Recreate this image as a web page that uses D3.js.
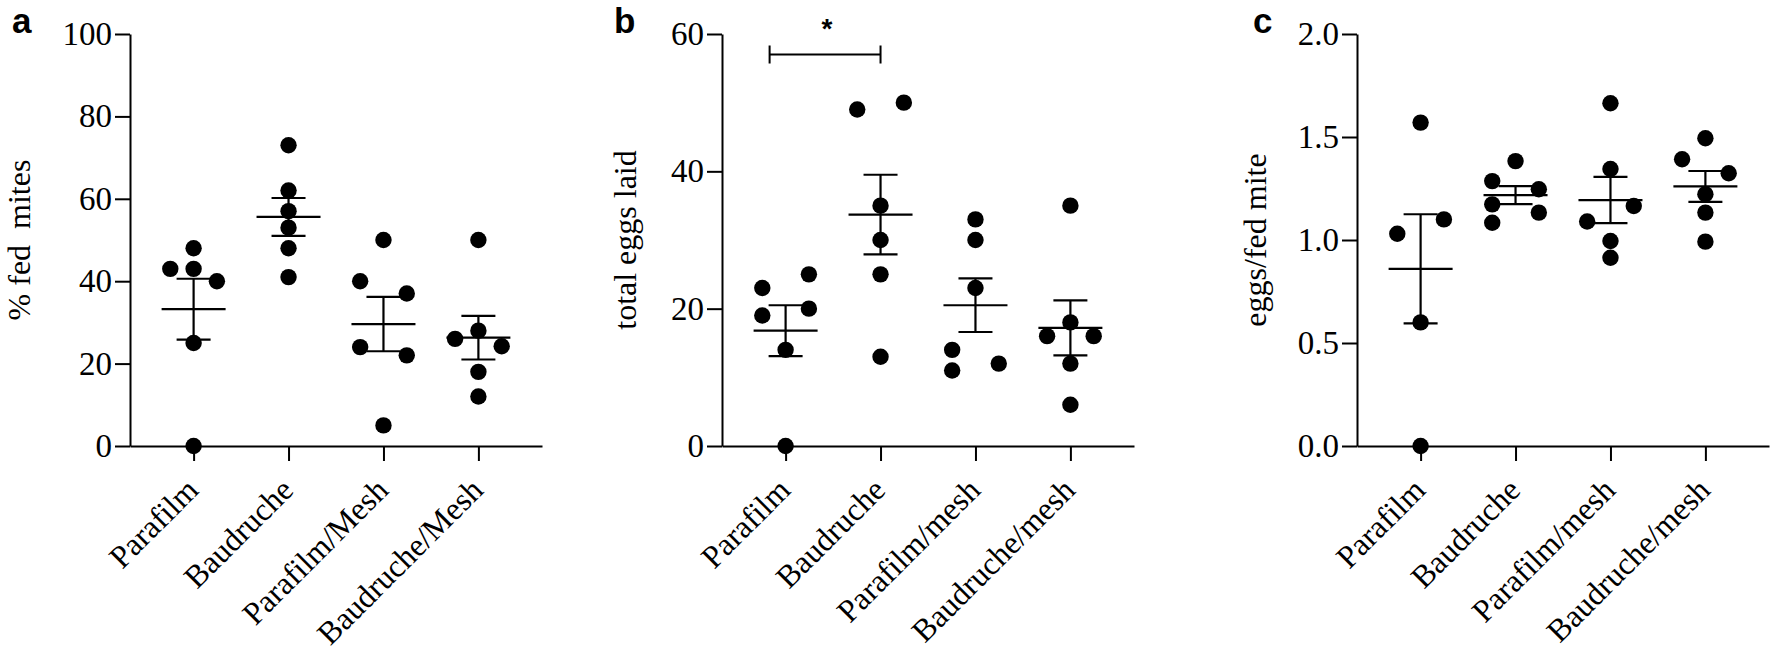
<!DOCTYPE html>
<html>
<head>
<meta charset="utf-8">
<script src="https://cdn.jsdelivr.net/npm/d3@7"></script>
<style>
  body { margin: 0; background: #fff; }
  svg { display: block; }
</style>
</head>
<body>
<div id="chart"></div>
<script>
// Categories
const groupsA = ["Parafilm", "Baudruche", "Parafilm/Mesh", "Baudruche/Mesh"];
const groupsBC = ["Parafilm", "Baudruche", "Parafilm/mesh", "Baudruche/mesh"];

// a: % fed mites (replicates, in data order)
const fedMites = [
    [48, 43, 43, 40, 25, 0],
    [73, 62, 57, 53, 48, 41],
    [50, 40, 37, 24, 22, 5],
    [50, 28, 26, 24.2, 18, 12]
];
const fedMean = [33.2, 55.6, 29.6, 26.3];
const fedSem = [7.4, 4.6, 6.6, 5.3];

// b: total eggs laid
const eggsLaid = [
    [23, 25, 19, 20, 14, 0],
    [49, 50, 35, 30, 25, 13],
    [33, 30, 23, 14, 12, 11],
    [35, 18, 16, 16, 12, 6]
];
const eggsMean = [16.8, 33.7, 20.5, 17.2];
const eggsSem = [3.7, 5.8, 3.9, 4.0];

// c: eggs per fed mite
const eggsPerMite = [
    [1.57, 1.03, 1.10, 0.60, 0],
    [1.383, 1.286, 1.246, 1.173, 1.133, 1.084],
    [1.664, 1.345, 1.09, 1.165, 0.995, 0.914],
    [1.494, 1.392, 1.324, 1.222, 1.133, 0.992]
];
const ratioMean = [0.86, 1.218, 1.194, 1.26];
const ratioSem = [0.265, 0.044, 0.112, 0.075];

// Tick labels
const ticksA = [0, 20, 40, 60, 80, 100];
const ticksB = [0, 20, 40, 60];
const ticksC = [0, 0.5, 1.0, 1.5, 2.0];

// Significance (panel b)
const sigPair = ["Parafilm", "Baudruche"];
const sigLevel = 57;
const sigText = "*";

const W = 1770, H = 654;
const plotTop = 34, plotBottom = 446, axisLen = 412;
const serif = "'Liberation Serif', 'Times New Roman', serif";
const sans = "'Liberation Sans', Arial, sans-serif";

const svg = d3.select("#chart").append("svg")
    .attr("width", W)
    .attr("height", H);

const panels = [
    { label: "a", left: 130, labelX: 12, titleX: 30, title: "% fed\u00a0\u00a0mites",
      groups: groupsA, values: fedMites, mean: fedMean, sem: fedSem,
      max: 100, ticks: ticksA, fmt: d3.format("d") },
    { label: "b", left: 722, labelX: 614, titleX: 636, title: "total eggs laid",
      groups: groupsBC, values: eggsLaid, mean: eggsMean, sem: eggsSem,
      max: 60, ticks: ticksB, fmt: d3.format("d"), sig: true },
    { label: "c", left: 1357, labelX: 1253, titleX: 1266, title: "eggs/fed mite",
      groups: groupsBC, values: eggsPerMite, mean: ratioMean, sem: ratioSem,
      max: 2, ticks: ticksC, fmt: d3.format(".1f") }
];

// Spread points that would overlap, roughly like Prism's scatter dot plot
function spread(values, y) {
    const D = 16, lane = 23.3;
    const order = values.map((v, i) => i)
        .sort((a, b) => (y(values[a]) - y(values[b])) || (a - b));
    const clusters = [];
    let cur = [];
    order.forEach((i, k) => {
        if (k > 0 && y(values[i]) - y(values[order[k - 1]]) >= D) {
            clusters.push(cur);
            cur = [];
        }
        cur.push(i);
    });
    clusters.push(cur);

    const off = values.map(() => 0);
    clusters.forEach(c => {
        const ys = c.map(i => y(values[i]));
        let k = 1;
        ys.forEach(a => {
            k = Math.max(k, ys.filter(b => b >= a && b - a < D).length);
        });
        const slots = k === 1 ? [0] : k === 2 ? [-1, 1] : [0, -1, 1];
        c.slice().sort((a, b) => a - b)
            .forEach((i, n) => { off[i] = slots[n % slots.length] * lane; });
    });
    return off;
}

panels.forEach(p => {
    const g = svg.append("g");

    const x = d3.scalePoint()
        .domain(p.groups)
        .range([p.left, p.left + axisLen])
        .padding(0.67);

    const y = d3.scaleLinear()
        .domain([0, p.max])
        .range([plotBottom, plotTop]);

    // Y axis
    const yAxis = g.append("g")
        .attr("transform", `translate(${p.left},0)`)
        .call(d3.axisLeft(y).tickValues(p.ticks).tickFormat(p.fmt)
            .tickSize(15).tickSizeOuter(0));
    yAxis.selectAll("path, line").attr("stroke", "#000").attr("stroke-width", 2);
    yAxis.selectAll("text")
        .attr("font-family", serif)
        .attr("font-size", 33)
        .attr("fill", "#000");

    // X axis
    const xAxis = g.append("g")
        .attr("transform", `translate(0,${plotBottom})`)
        .call(d3.axisBottom(x).tickSize(15).tickSizeOuter(0));
    xAxis.selectAll("path, line").attr("stroke", "#000").attr("stroke-width", 2);
    xAxis.selectAll("text")
        .attr("y", null)
        .attr("dy", null)
        .attr("text-anchor", "end")
        .attr("transform", "translate(6,46) rotate(-45)")
        .attr("font-family", serif)
        .attr("font-size", 32)
        .attr("fill", "#000");

    // Axis title
    g.append("text")
        .attr("transform", `translate(${p.titleX},${(plotTop + plotBottom) / 2}) rotate(-90)`)
        .attr("text-anchor", "middle")
        .attr("font-family", serif)
        .attr("font-size", 32)
        .attr("fill", "#000")
        .text(p.title);

    // Panel letter
    g.append("text")
        .attr("x", p.labelX)
        .attr("y", 33)
        .attr("font-family", sans)
        .attr("font-weight", "bold")
        .attr("font-size", 35)
        .attr("fill", "#000")
        .text(p.label);

    // Points
    p.groups.forEach((grp, gi) => {
        const vals = p.values[gi];
        const off = spread(vals, y);
        g.append("g").selectAll("circle")
            .data(vals)
            .join("circle")
            .attr("cx", (d, i) => x(grp) + off[i])
            .attr("cy", d => y(d))
            .attr("r", 8.2)
            .attr("fill", "#000");
    });

    // Mean and SEM
    const eb = g.append("g")
        .attr("stroke", "#000")
        .attr("stroke-width", 2.2)
        .selectAll("g")
        .data(p.groups)
        .join("g");
    eb.append("line")
        .attr("x1", d => x(d) - 32).attr("x2", d => x(d) + 32)
        .attr("y1", (d, i) => y(p.mean[i])).attr("y2", (d, i) => y(p.mean[i]));
    eb.append("line")
        .attr("x1", d => x(d)).attr("x2", d => x(d))
        .attr("y1", (d, i) => y(p.mean[i] + p.sem[i]))
        .attr("y2", (d, i) => y(p.mean[i] - p.sem[i]));
    eb.append("line")
        .attr("x1", d => x(d) - 17).attr("x2", d => x(d) + 17)
        .attr("y1", (d, i) => y(p.mean[i] + p.sem[i]))
        .attr("y2", (d, i) => y(p.mean[i] + p.sem[i]));
    eb.append("line")
        .attr("x1", d => x(d) - 17).attr("x2", d => x(d) + 17)
        .attr("y1", (d, i) => y(p.mean[i] - p.sem[i]))
        .attr("y2", (d, i) => y(p.mean[i] - p.sem[i]));

    // Significance bracket
    if (p.sig) {
        const x1 = x(sigPair[0]) - 16, x2 = x(sigPair[1]);
        const yb = y(sigLevel);
        g.append("path")
            .attr("d", `M${x1},${yb - 9}V${yb + 9}M${x1},${yb}H${x2}M${x2},${yb - 9}V${yb + 9}`)
            .attr("fill", "none")
            .attr("stroke", "#000")
            .attr("stroke-width", 2);
        g.append("text")
            .attr("x", (x1 + x2) / 2 + 2)
            .attr("y", 38)
            .attr("text-anchor", "middle")
            .attr("font-family", sans)
            .attr("font-weight", "bold")
            .attr("font-size", 28)
            .attr("fill", "#000")
            .text(sigText);
    }
});
</script>
</body>
</html>
